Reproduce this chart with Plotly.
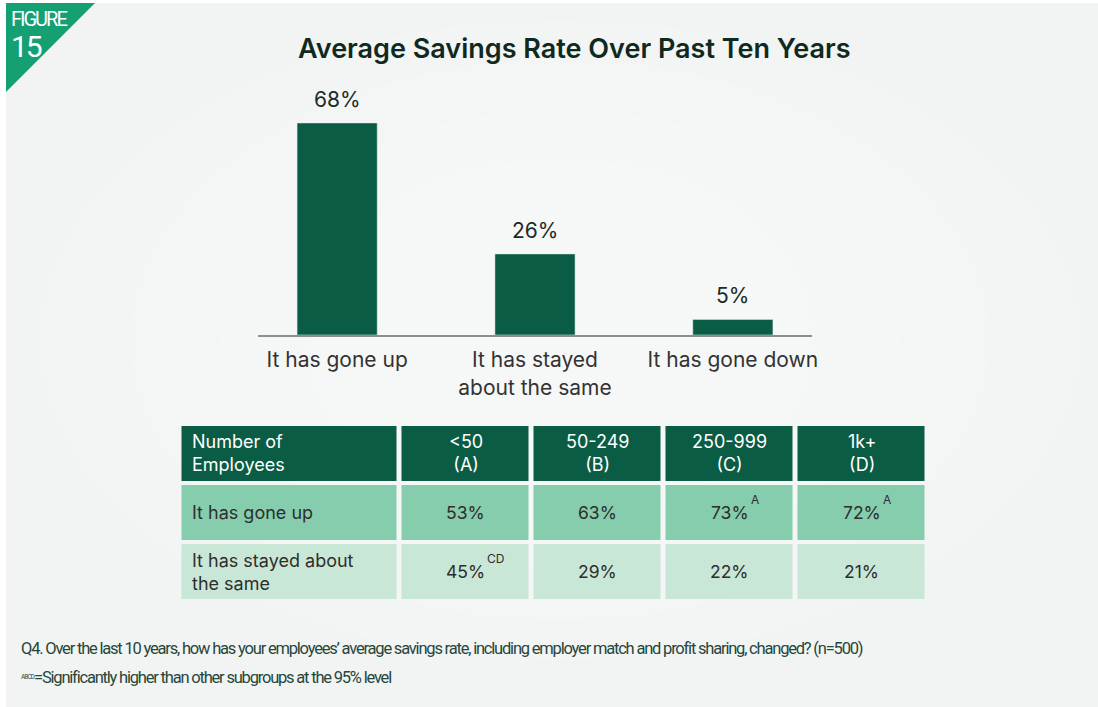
import plotly.graph_objects as go

# ---- data ----
categories = ["It has gone up", "It has stayed<br>about the same", "It has gone down"]
shares = [68, 26, 5]

col_headers = ["Number of<br>Employees", "<50<br>(A)", "50-249<br>(B)", "250-999<br>(C)", "1k+<br>(D)"]
row_labels = ["It has gone up", "It has stayed about<br>the same"]
row_values = [[53, 63, 73, 72], [45, 29, 22, 21]]
row_sig = [["", "", "A", "A"], ["CD", "", "", ""]]
col_widths = [220, 132, 132, 132, 132]

title_text = "Average Savings Rate Over Past Ten Years"
note_q = ("Q4. Over the last 10 years, how has your employees\u2019 average savings rate, "
          "including employer match and profit sharing, changed? (n=500)")
note_sig_mark = "ABCD"
note_sig = "=Significantly higher than other subgroups at the 95% level"

# ---- style ----
W, H = 1098, 707
DARK = "#0b5c44"
MID = "#86cdad"
LIGHT = "#c9e7d6"
PANEL = "#f2f3f3"
ACCENT = "#14a073"
BODY = "Inter, 'Open Sans', sans-serif"
NARROW = "Roboto, 'Liberation Sans', sans-serif"
TIGHT = "letter-spacing:-1.2px"


def px_x(p):
    return p / W


def px_y(p):
    return 1 - p / H


def tight(text, spacing=TIGHT):
    return f"<span style='{spacing}'>{text}</span>"


fig = go.Figure()

# bar chart
fig.add_trace(go.Bar(
    x=categories, y=shares, marker_color=DARK, width=0.405,
    hoverinfo="x+y", showlegend=False, xaxis="x", yaxis="y",
))

# table drawn as a gapped heatmap with uneven column widths
col_edges = [0]
for w in col_widths:
    col_edges.append(col_edges[-1] + w)
n_rows = 1 + len(row_labels)
z = [[r] * len(col_widths) for r in range(n_rows)]
fig.add_trace(go.Heatmap(
    x=col_edges, y=list(range(n_rows + 1)), z=z,
    zmin=0, zmax=2, colorscale=[[0, DARK], [0.5, MID], [1, LIGHT]],
    showscale=False, xgap=5, ygap=4, hoverinfo="skip",
    xaxis="x2", yaxis="y2",
))

annotations = []

# value labels above bars
for c, v in zip(categories, shares):
    annotations.append(dict(
        x=c, y=v, xref="x", yref="y", text=f"{v}%", showarrow=False,
        yanchor="bottom", yshift=9, font=dict(family=BODY, size=21, color="#1c2b24"),
    ))

# table text
centers = [(col_edges[i] + col_edges[i + 1]) / 2 for i in range(len(col_widths))]
label_font = dict(family=BODY, size=18, color="#2e2e2e")
num_font = dict(family=BODY, size=17.5, color="#2e2e2e")
head_font = dict(family=BODY, size=18, color="white")
sig_font = dict(family=BODY, size=12, color="#2e2e2e")
annotations.append(dict(
    x=10, y=0.5, xref="x2", yref="y2", text=col_headers[0], showarrow=False,
    xanchor="left", yanchor="middle", align="left", font=head_font,
))
for i in range(1, len(col_headers)):
    annotations.append(dict(
        x=centers[i], y=0.5, xref="x2", yref="y2", text=col_headers[i], showarrow=False,
        yanchor="middle", font=head_font,
    ))
for r, lab in enumerate(row_labels):
    yc = r + 1.5
    annotations.append(dict(
        x=10, y=yc, xref="x2", yref="y2", text=lab, showarrow=False,
        xanchor="left", yanchor="middle", align="left", font=label_font,
    ))
    for j, v in enumerate(row_values[r]):
        annotations.append(dict(
            x=centers[j + 1], y=yc, xref="x2", yref="y2", text=f"{v}%", showarrow=False,
            yanchor="middle", font=num_font,
        ))
        sig = row_sig[r][j]
        if sig:
            # significance letters sit raised just past the right end of the number
            annotations.append(dict(
                x=centers[j + 1], y=yc, xref="x2", yref="y2", text=sig, showarrow=False,
                xanchor="left", yanchor="middle", xshift=19, yshift=13, font=sig_font,
            ))

# title, figure tag and notes
note_font = dict(family=NARROW, size=16.5, color="#26473b")
annotations += [
    dict(x=px_x(574), y=px_y(48), xref="paper", yref="paper", text=title_text,
         showarrow=False, xanchor="center", yanchor="middle",
         font=dict(family=BODY, size=27, color="#10291f", weight=600)),
    dict(x=px_x(9), y=px_y(19), xref="paper", yref="paper",
         text=tight("FIGURE", "letter-spacing:-2px"),
         showarrow=False, xanchor="left", yanchor="middle",
         font=dict(family=NARROW, size=20, color="white")),
    dict(x=px_x(9), y=px_y(46), xref="paper", yref="paper",
         text=tight("15", "letter-spacing:-2px"),
         showarrow=False, xanchor="left", yanchor="middle",
         font=dict(family=NARROW, size=30, color="white")),
    dict(x=px_x(19), y=px_y(648), xref="paper", yref="paper", text=tight(note_q),
         showarrow=False, xanchor="left", yanchor="middle", font=note_font),
    dict(x=px_x(19), y=px_y(677), xref="paper", yref="paper",
         text=(f"<span style='font-size:9px;letter-spacing:-0.8px'><sup>{note_sig_mark}</sup></span>"
               + tight(note_sig)),
         showarrow=False, xanchor="left", yanchor="middle", font=note_font),
]

shapes = [
    # white frame along the top and left edges of the grey panel
    dict(type="rect", xref="paper", yref="paper", x0=0, x1=px_x(6), y0=0, y1=1,
         fillcolor="white", line_width=0, layer="below"),
    dict(type="rect", xref="paper", yref="paper", x0=0, x1=1, y0=px_y(3), y1=1,
         fillcolor="white", line_width=0, layer="below"),
]
# soft lighter glow in the middle of the panel
for rx, ry in [(520, 320), (430, 280), (340, 230), (250, 180)]:
    cx, cy = 560, 340
    shapes.append(dict(
        type="circle", xref="paper", yref="paper",
        x0=px_x(cx - rx), x1=px_x(cx + rx), y0=px_y(cy + ry), y1=px_y(cy - ry),
        fillcolor="rgba(255,255,255,0.12)", line_width=0, layer="below",
    ))
shapes.append(dict(
    type="path", xref="paper", yref="paper",
    path=f"M {px_x(6)},{px_y(3)} L {px_x(95)},{px_y(3)} L {px_x(6)},{px_y(92)} Z",
    fillcolor=ACCENT, line_width=0, layer="below",
))

fig.update_layout(
    width=W, height=H, autosize=False, margin=dict(l=0, r=0, t=0, b=0, pad=0),
    paper_bgcolor=PANEL, plot_bgcolor="rgba(0,0,0,0)",
    showlegend=False, annotations=annotations, shapes=shapes,
    xaxis=dict(domain=[px_x(258), px_x(812)], range=[-0.4, 2.4], showline=True,
               linecolor="#8e8e8e", linewidth=2, showgrid=False, zeroline=False,
               ticks="", tickfont=dict(family=BODY, size=21, color="#333333"),
               ticklabelstandoff=5, fixedrange=True, automargin=False),
    yaxis=dict(domain=[px_y(335), px_y(110.5)], range=[0, 72], visible=False,
               fixedrange=True, automargin=False),
    xaxis2=dict(domain=[px_x(179.5), px_x(927.5)], range=[0, col_edges[-1]],
                visible=False, fixedrange=True, anchor="y2", automargin=False),
    yaxis2=dict(domain=[px_y(601), px_y(424)], range=[n_rows, 0], visible=False,
                fixedrange=True, anchor="x2", automargin=False),
)

fig.write_html("out.html", config={"displayModeBar": False})
